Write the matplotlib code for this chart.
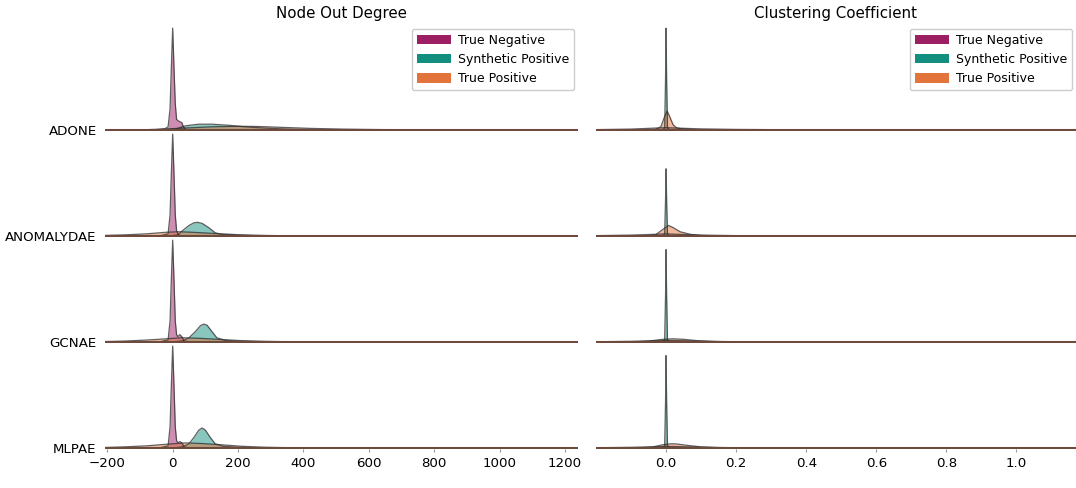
import numpy as np
import matplotlib
matplotlib.use("Agg")
import matplotlib.pyplot as plt
from matplotlib.patches import Patch

# Classes and colours
classes = ["True Negative", "Synthetic Positive", "True Positive"]
colors = ["#9c1f64", "#138f7f", "#e2733b"]
models = ["ADONE", "ANOMALYDAE", "GCNAE", "MLPAE"]
titles = ["Node Out Degree", "Clustering Coefficient"]

# Density curves: (x points, relative height of row)
DEG_ADONE = {
    "True Negative": ([-60, -25, -14, -8, -4, 0, 4, 8, 12, 18, 28, 33, 40, 60],
                      [0, 0.01, 0.03, 0.2, 0.6, 0.97, 0.6, 0.25, 0.1, 0.085, 0.07, 0.03, 0.005, 0]),
    "Synthetic Positive": ([-20, 10, 40, 80, 120, 170, 220, 280, 350, 420, 500],
                           [0, 0.01, 0.04, 0.055, 0.055, 0.045, 0.03, 0.018, 0.008, 0.003, 0]),
    "True Positive": ([-100, -20, 50, 120, 200, 260, 330, 420, 520, 620, 750, 900],
                      [0, 0.01, 0.02, 0.03, 0.035, 0.033, 0.025, 0.015, 0.008, 0.004, 0.001, 0]),
}
DEG_ANOMALYDAE = {
    "True Negative": ([-40, -14, -8, -4, 0, 4, 8, 12, 18, 30],
                      [0, 0.02, 0.2, 0.6, 0.97, 0.6, 0.2, 0.05, 0.01, 0]),
    "Synthetic Positive": ([-10, 15, 30, 50, 65, 75, 90, 110, 130, 150, 200, 260, 330],
                           [0, 0.01, 0.05, 0.1, 0.125, 0.13, 0.12, 0.08, 0.03, 0.015, 0.006, 0.002, 0]),
    "True Positive": ([-230, -150, -80, -20, 20, 60, 120, 200, 280, 360, 450],
                      [0.003, 0.01, 0.02, 0.035, 0.04, 0.035, 0.025, 0.012, 0.005, 0.001, 0]),
}
DEG_GCNAE = {
    "True Negative": ([-40, -14, -8, -4, 0, 4, 8, 12, 16, 22, 28, 35, 50],
                      [0, 0.02, 0.2, 0.6, 0.97, 0.6, 0.2, 0.07, 0.05, 0.07, 0.05, 0.01, 0]),
    "Synthetic Positive": ([0, 30, 50, 70, 85, 95, 105, 120, 135, 160, 200, 260, 320],
                           [0, 0.01, 0.04, 0.1, 0.155, 0.17, 0.16, 0.1, 0.04, 0.015, 0.006, 0.002, 0]),
    "True Positive": ([-230, -150, -80, -20, 30, 80, 140, 200, 280, 360, 450],
                      [0.002, 0.008, 0.018, 0.03, 0.04, 0.035, 0.025, 0.014, 0.006, 0.002, 0]),
}
DEG_MLPAE = {
    "True Negative": ([-40, -14, -8, -4, 0, 4, 8, 12, 16, 22, 28, 35, 50],
                      [0, 0.02, 0.2, 0.6, 0.97, 0.6, 0.2, 0.07, 0.05, 0.06, 0.05, 0.01, 0]),
    "Synthetic Positive": ([0, 30, 50, 65, 80, 90, 100, 115, 130, 155, 200, 260, 320],
                           [0, 0.01, 0.04, 0.1, 0.17, 0.19, 0.17, 0.1, 0.04, 0.015, 0.006, 0.002, 0]),
    "True Positive": ([-230, -150, -80, -20, 40, 90, 150, 210, 280, 360, 450],
                      [0.002, 0.01, 0.02, 0.035, 0.048, 0.042, 0.03, 0.016, 0.007, 0.002, 0]),
}

CC_ADONE = {
    "True Negative": ([-0.22, -0.1, -0.03, 0, 0.03, 0.1, 0.2, 0.35, 0.5],
                      [0.002, 0.008, 0.018, 0.022, 0.018, 0.01, 0.005, 0.002, 0]),
    "Synthetic Positive": ([-0.01, -0.004, -0.0015, 0, 0.0015, 0.004, 0.01],
                           [0, 0.02, 0.5, 0.97, 0.5, 0.02, 0]),
    "True Positive": ([-0.06, -0.03, -0.015, -0.005, 0.003, 0.01, 0.02, 0.03, 0.05, 0.08, 0.12],
                      [0, 0.005, 0.03, 0.12, 0.18, 0.13, 0.05, 0.02, 0.008, 0.003, 0]),
}
CC_ANOMALYDAE = {
    "True Negative": ([-0.22, -0.1, -0.03, 0, 0.03, 0.1, 0.2, 0.3],
                      [0.002, 0.008, 0.016, 0.02, 0.016, 0.008, 0.003, 0]),
    "Synthetic Positive": ([-0.01, -0.004, -0.0015, 0, 0.0015, 0.004, 0.01],
                           [0, 0.02, 0.35, 0.64, 0.35, 0.02, 0]),
    "True Positive": ([-0.06, -0.03, -0.01, 0.007, 0.02, 0.04, 0.07, 0.1, 0.15],
                      [0, 0.01, 0.06, 0.1, 0.08, 0.04, 0.015, 0.005, 0]),
}
CC_GCNAE = {
    "True Negative": ([-0.22, -0.1, -0.03, 0, 0.03, 0.1, 0.2, 0.3],
                      [0.001, 0.006, 0.012, 0.015, 0.013, 0.007, 0.002, 0]),
    "Synthetic Positive": ([-0.01, -0.004, -0.0015, 0, 0.0015, 0.004, 0.01],
                           [0, 0.02, 0.45, 0.88, 0.45, 0.02, 0]),
    "True Positive": ([-0.1, -0.05, -0.01, 0.02, 0.05, 0.09, 0.14, 0.2],
                      [0, 0.008, 0.025, 0.03, 0.025, 0.012, 0.004, 0]),
}
CC_MLPAE = {
    "True Negative": ([-0.22, -0.1, -0.03, 0, 0.03, 0.1, 0.2, 0.3],
                      [0.001, 0.006, 0.012, 0.015, 0.013, 0.007, 0.002, 0]),
    "Synthetic Positive": ([-0.01, -0.004, -0.0015, 0, 0.0015, 0.004, 0.01],
                           [0, 0.02, 0.45, 0.88, 0.45, 0.02, 0]),
    "True Positive": ([-0.08, -0.04, -0.01, 0.015, 0.03, 0.06, 0.1, 0.15, 0.22],
                      [0, 0.008, 0.03, 0.04, 0.038, 0.025, 0.01, 0.003, 0]),
}

degree = [DEG_ADONE, DEG_ANOMALYDAE, DEG_GCNAE, DEG_MLPAE]
clustering = [CC_ADONE, CC_ANOMALYDAE, CC_GCNAE, CC_MLPAE]

deg_ticks = [-200, 0, 200, 400, 600, 800, 1000, 1200]
cc_ticks = [0.0, 0.2, 0.4, 0.6, 0.8, 1.0]


def main():
    W, H = 1076, 488
    fig = plt.figure(figsize=(W / 100, H / 100), dpi=100)

    col_left = [105, 596]
    col_width = [473, 480]
    xlims = [(-207, 1240), (-0.2, 1.17)]
    ticks = [deg_ticks, cc_ticks]
    panels = [degree, clustering]

    for c in range(2):
        for r in range(4):
            base = 131 + 106 * r
            ax = fig.add_axes([col_left[c] / W, 1 - base / H, col_width[c] / W, 106 / H])
            curves = panels[c][r]
            for name, col in zip(classes, colors):
                xs, ys = curves[name]
                ax.fill_between(xs, ys, 0, color=col, alpha=0.5, lw=0)
                ax.plot(xs, ys, color="#2b2b2b", lw=0.9, alpha=0.75)
            ax.axhline(0, color="#6e4a3c", lw=2.2, zorder=5)
            ax.set_xlim(*xlims[c])
            ax.set_ylim(-0.01, 1.0)
            for s in ax.spines.values():
                s.set_visible(False)
            ax.patch.set_alpha(0)
            if c == 0:
                ax.set_yticks([0])
                ax.set_yticklabels([models[r]], fontsize=9.6)
                ax.tick_params(axis="y", length=0, pad=6)
            else:
                ax.set_yticks([])
            ax.set_xticks(ticks[c])
            if r == 3:
                ax.tick_params(axis="x", labelsize=9.6, length=2, color="#999999", pad=4)
            else:
                ax.tick_params(axis="x", labelbottom=False, length=0)
            if r == 0:
                ax.set_title(titles[c], fontsize=10.8, pad=5)
                handles = [Patch(facecolor=col, edgecolor="none") for col in colors]
                ax.legend(handles, classes, loc="upper right", fontsize=9,
                          borderaxespad=0.3, handlelength=2.7, handleheight=0.8,
                          handletextpad=0.6, framealpha=1)

    fig.savefig("out.png", dpi=100)


if __name__ == "__main__":
    main()
